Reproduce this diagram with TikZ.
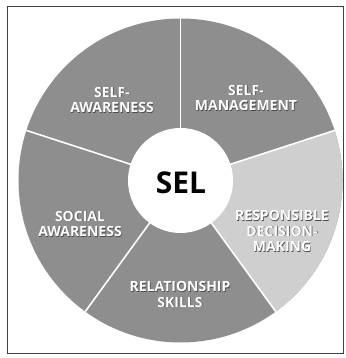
\documentclass[tikz,border=0pt]{standalone}
\usepackage{fontspec}
\setmainfont{Open Sans}
\definecolor{midgray}{HTML}{8E8E8E}
\definecolor{lightgray}{HTML}{CFCFCF}
\tikzset{
  labeltxt/.style={font=\bfseries\fontsize{14}{15.5}\selectfont, align=center, inner sep=0pt},
  divider/.style={white, line width=1.6pt},
  framebox/.style={draw=black!75, line width=0.9pt},
}
\newcommand{\seglabel}[4]{%
  \node[labeltxt, text=black!70] (#1-sh) at (#2+0.7,#3-0.7) {#4};
  \node[labeltxt, text=white] (#1) at (#2,#3) {#4};}
\begin{document}
\begin{tikzpicture}[x=1pt,y=1pt]
\useasboundingbox (0,0) rectangle (345,358);
\fill[white] (0,0) rectangle (345,358);
\coordinate (c) at (180.5,177.5);
\fill[midgray] (c) circle[radius=162];
\fill[lightgray] (c) -- ++(-54:162) arc[start angle=-54, end angle=18, radius=162] -- cycle;
\foreach \a in {90,18,162,234,306} \draw[divider] (c) -- ++(\a:162);
\node[circle, fill=white, minimum size=105pt, inner sep=0pt] (core) at (c) {};
\node[font=\bfseries\fontsize{30}{30}\selectfont, inner sep=0pt] (sel) at (181,175.5) {SEL};
\seglabel{sa}{112}{258}{SELF-\\AWARENESS}
\seglabel{sm}{246}{260}{SELF-\\MANAGEMENT}
\seglabel{soc}{80}{134}{SOCIAL\\AWARENESS}
\seglabel{rel}{180}{63.5}{RELATIONSHIP\\SKILLS}
\seglabel{rdm}{282}{127}{RESPONSIBLE\\DECISION-\\MAKING}
\draw[framebox] (7,5) rectangle (343.5,352);
\end{tikzpicture}
\end{document}
